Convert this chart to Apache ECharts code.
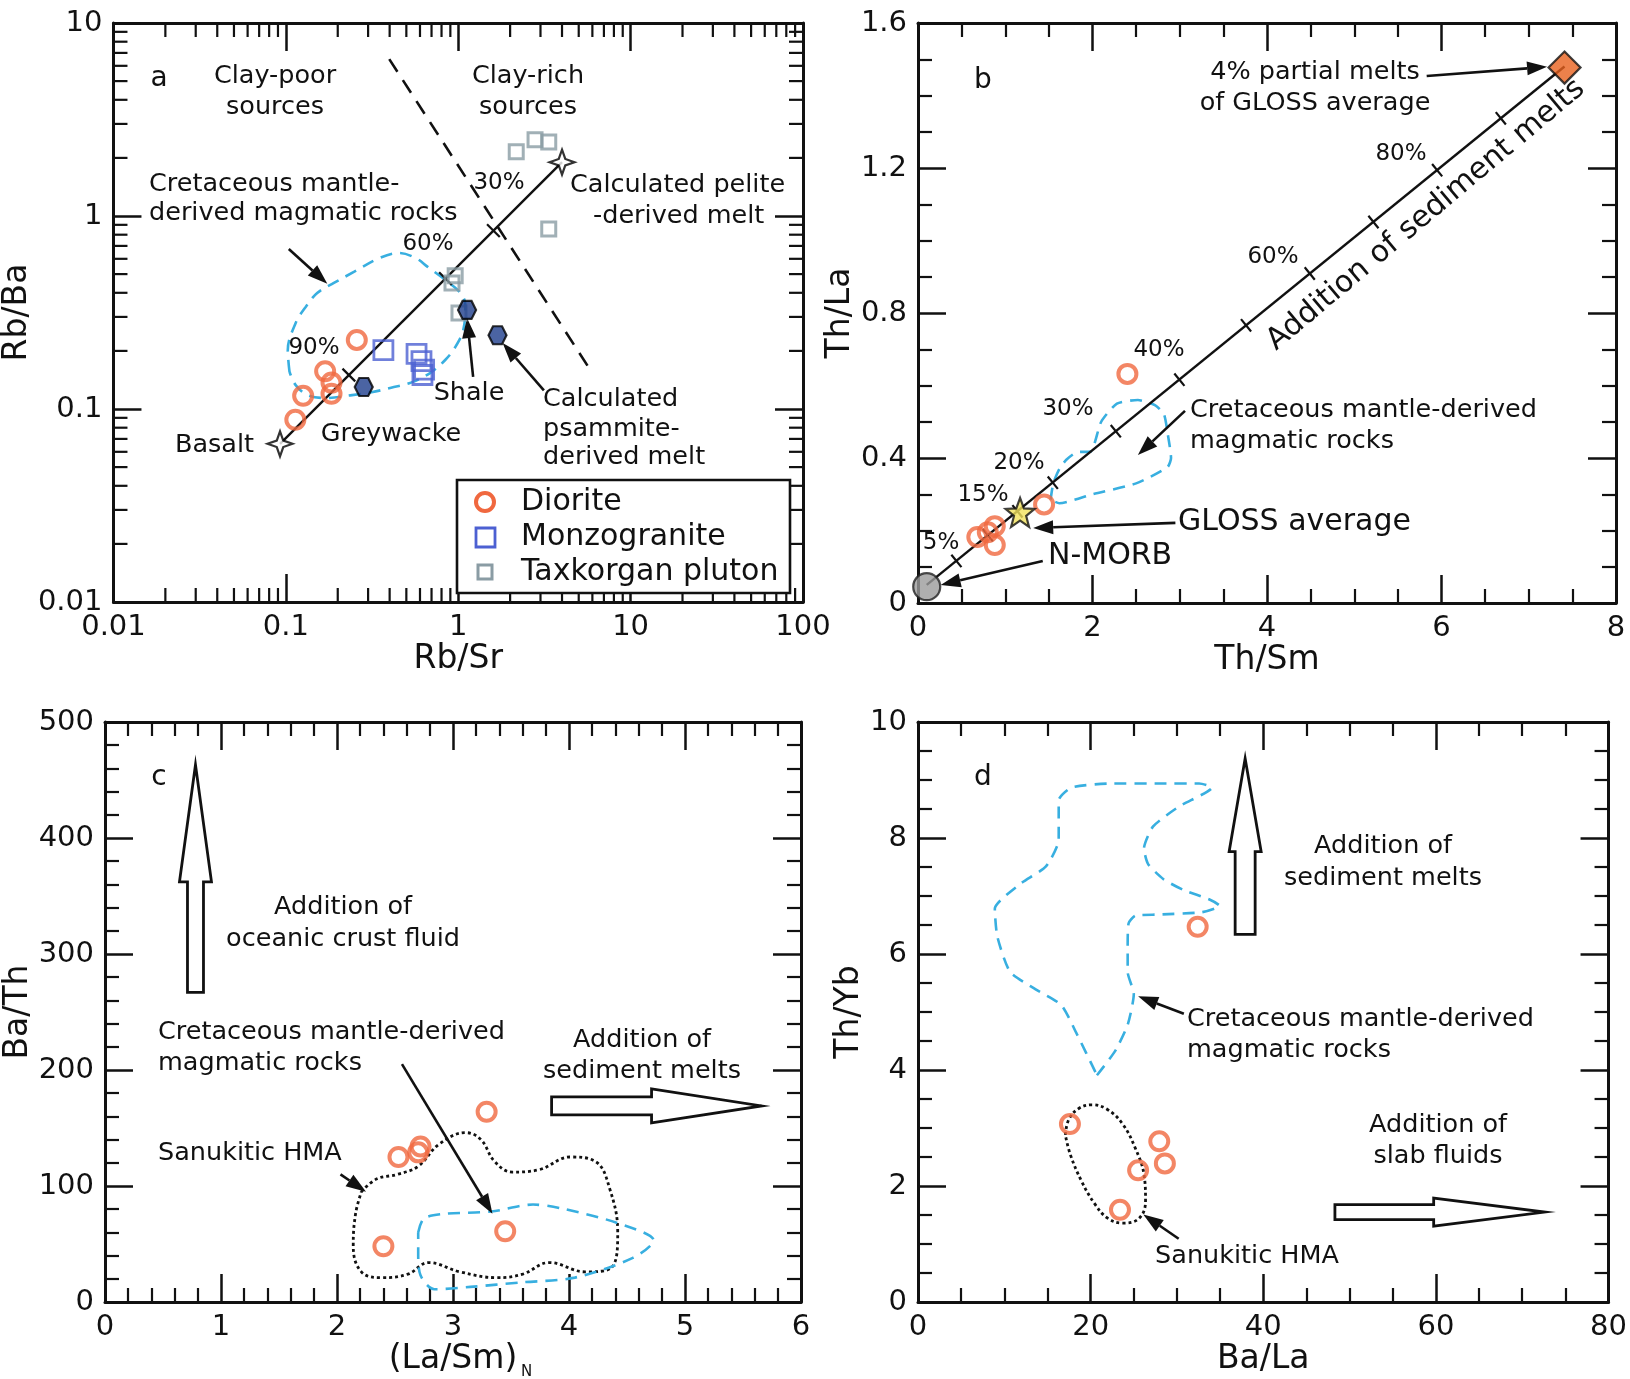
<!DOCTYPE html>
<html><head><meta charset="utf-8">
<script src="https://cdn.jsdelivr.net/npm/echarts@6/dist/echarts.min.js"></script>
<style>html,body{margin:0;padding:0;background:#fff}#c{width:1630px;height:1379px}</style>
</head><body><div id="c"></div>
<script>
// ---------------- DATA ----------------
// Panel a : Rb/Sr vs Rb/Ba (log-log)
const diorA_x = [0.258, 0.169, 0.184, 0.184, 0.126, 0.1135];
const diorA_y = [0.228, 0.157, 0.137, 0.120, 0.117, 0.088];
const monzA_x = [0.368, 0.573, 0.612, 0.634, 0.620];
const monzA_y = [0.202, 0.193, 0.177, 0.160, 0.150];
const taxA_x = [2.17, 2.79, 3.35, 3.35, 0.96, 0.92, 1.01];
const taxA_y = [2.15, 2.48, 2.42, 0.857, 0.49, 0.45, 0.314];
const srcA_x = [0.283, 1.125, 1.69];          // Greywacke, Shale, psammite melt
const srcA_y = [0.130, 0.326, 0.241];
const endA_x = [0.0925, 4.0];                 // Basalt, pelite-derived melt
const endA_y = [0.066, 1.9];
const tickA_x = [0.232, 0.843, 1.6];          // 90%, 60%, 30%
const tickA_y = [0.150, 0.474, 0.84];
const divA_x = [0.398, 5.9];                  // clay-poor / clay-rich divider
const divA_y = [6.5, 0.157];
const fieldA_x = [0.105,0.1026,0.114,0.130,0.152,0.19,0.248,0.349,0.454,0.568,0.665,0.843,1.03,1.10,1.07,0.96,0.843,0.69,0.532,0.408,0.314,0.242,0.174,0.134,0.114];
const fieldA_y = [0.156,0.202,0.279,0.337,0.399,0.45,0.513,0.605,0.643,0.605,0.545,0.466,0.399,0.346,0.257,0.209,0.180,0.154,0.137,0.129,0.122,0.118,0.114,0.118,0.133];

// Panel b : Th/Sm vs Th/La
const diorB_x = [2.40, 1.445, 0.68, 0.80, 0.88, 0.88];
const diorB_y = [0.632, 0.272, 0.182, 0.195, 0.212, 0.160];
const morbB = [0.10, 0.045];
const glossB = [1.17, 0.25];
const glossMeltB = [7.41, 1.477];
const mixB_x = [0.10, 7.41];
const mixB_y = [0.05, 1.48];
const tickB_x = [0.44, 0.80, 1.14, 1.545, 2.267, 2.996, 3.76, 4.49, 5.22, 5.95, 6.68];
const tickB_y = [0.116, 0.187, 0.253, 0.332, 0.474, 0.616, 0.766, 0.909, 1.051, 1.194, 1.337];
const fieldB_x = [1.52,1.55,1.62,1.70,1.82,1.98,2.10,2.28,2.52,2.72,2.82,2.86,2.90,2.86,2.50,2.00,1.62];
const fieldB_y = [0.285,0.33,0.37,0.395,0.416,0.418,0.50,0.55,0.56,0.545,0.52,0.47,0.40,0.375,0.33,0.30,0.275];

// Panel c : (La/Sm)N vs Ba/Th
const diorC_x = [2.40, 2.53, 2.70, 2.72, 3.29, 3.45];
const diorC_y = [48, 125, 129, 134, 164, 61];
const sanukC_x = [2.21,2.34,2.52,2.70,2.88,3.11,3.24,3.36,3.51,3.74,4.01,4.23,4.35,4.42,4.37,4.14,3.83,3.60,3.38,3.06,2.79,2.61,2.39,2.21,2.14,2.16];
const sanukC_y = [95,106,110,117,136,146,140,121,112,114,125,121,98,60,30,26,34,24,21,26,34,24,21,26,49,76];
const cretC_x = [2.70,2.75,2.93,3.33,3.69,3.92,4.42,4.73,4.55,4.05,3.60,3.15,2.84,2.72,2.70];
const cretC_y = [60,72,76,78,84,81,68,53,38,21,17,13,11,23,42];

// Panel d : Ba/La vs Th/Yb
const diorD_x = [17.6, 27.95, 28.6, 25.5, 23.4, 32.4];
const diorD_y = [3.07, 2.77, 2.39, 2.27, 1.59, 6.47];
const sanukD_x = [17.07,17.48,18.66,20.15,21.93,23.70,25.18,26.18,26.36,25.6,23.7,21.93,20.44,18.96,17.65];
const sanukD_y = [2.88,3.15,3.34,3.40,3.32,3.07,2.65,2.20,1.74,1.44,1.36,1.45,1.70,2.08,2.54];
const cretD_x = [20.73,22.81,24.29,25.0,24.29,24.29,24.40,25.18,27.84,32.87,34.95,33.77,30.80,28.44,26.66,26.18,27.24,30.21,34.05,32.57,27.84,22.51,17.78,16.30,16.30,14.82,11.85,8.9,9.19,10.67,13.63,16.60,18.37];
const cretD_y = [3.91,4.32,4.78,5.31,5.69,6.15,6.53,6.66,6.68,6.72,6.83,6.94,7.10,7.29,7.55,7.82,8.20,8.54,8.87,8.94,8.94,8.94,8.87,8.65,7.97,7.51,7.21,6.78,6.30,5.69,5.39,5.12,4.63];

// annotation arrows [x0,y0,x1,y1] in data units
const arrowsA = [[0.104,0.675,0.174,0.445],[1.22,0.1466,1.125,0.296],[3.14,0.125,1.81,0.22]];
const arrowsB = [[5.83,1.454,7.21,1.479],[3.06,0.53,2.52,0.408],[2.95,0.221,1.32,0.207],[1.43,0.116,0.26,0.05]];
const arrowsC = [[2.56,205,3.34,76],[2.03,110,2.25,95]];
const arrowsD = [[30.8,4.97,25.5,5.27],[30.2,1.09,26.1,1.51]];
const blockC = [[0.78,267,0.78,463],[3.85,169,5.66,169]];
const blockD = [[37.9,6.34,37.9,9.37],[48.3,1.55,72.6,1.55]];

// axis tick helpers
const LOG_STEPS = [2,3,4,5,6,7,8,9];
const logDecX = [0.01,0.1,1,10];
const logDecY = [0.01,0.1,1];

// ---------------- STYLE ----------------
const FONT = 'DejaVu Sans';
const TXT = '#111';
const C_DIOR = '#f0683f', C_MONZ = '#4c60d2', C_TAX = '#8a9ca4', C_BLUE = '#38afe0', C_HEX = '#1e3d8c';
const GRIDS = [
  {left:103, top:23, width:700, height:579},
  {left:918, top:23, width:698, height:580},
  {left:105, top:722, width:696, height:580},
  {left:918, top:722, width:698, height:580}
];
const AX = [
  {type:'log', min:0.01, max:100},
  {type:'value', min:0, max:8, interval:2, minorSplit:4},
  {type:'value', min:0, max:6, interval:1, minorSplit:5},
  {type:'value', min:0, max:80, interval:20, minorSplit:4}
];
const AY = [
  {type:'log', min:0.01, max:10},
  {type:'value', min:0, max:1.6, interval:0.4, minorSplit:4},
  {type:'value', min:0, max:500, interval:100, minorSplit:5},
  {type:'value', min:0, max:10, interval:2, minorSplit:4}
];
const XNAMES = ['Rb/Sr','Th/Sm','(La/Sm)','Ba/La'];
const YNAMES = ['Rb/Ba','Th/La','Ba/Th','Th/Yb'];
const XGAP = [38,38,40,40];
const YGAP = [58,59,60,35];

function mkAxis(cfg, gi, position, main, name, gap) {
  const o = {
    type: cfg.type, gridIndex: gi, position: position, min: cfg.min, max: cfg.max,
    axisLine: {show:true, onZero:false, lineStyle:{color:'#111', width:3}},
    axisTick: {show:true, inside:true, length:28, lineStyle:{color:'#111', width:2.5}},
    splitLine: {show:false},
    axisLabel: {show:main, margin:11, fontSize:29, fontFamily:FONT, color:TXT}
  };
  if (cfg.type === 'log') {
    o.logBase = 10;
    o.axisLabel.formatter = v => String(+Number(v).toPrecision(3));
  } else {
    o.interval = cfg.interval;
    o.minorTick = {show:true, splitNumber:cfg.minorSplit, length:14, lineStyle:{color:'#111', width:2.2}};
  }
  if (main) {
    o.name = name; o.nameLocation = 'middle'; o.nameGap = gap;
    o.nameTextStyle = {fontSize:33, fontFamily:FONT, color:TXT};
  }
  return o;
}
const xAxes = [], yAxes = [];
for (let p = 0; p < 4; p++) {
  xAxes.push(mkAxis(AX[p], p, 'bottom', true, XNAMES[p], XGAP[p]));
  xAxes.push(mkAxis(AX[p], p, 'top', false));
  yAxes.push(mkAxis(AY[p], p, 'left', true, YNAMES[p], YGAP[p]));
  yAxes.push(mkAxis(AY[p], p, 'right', false));
}

const pairs = (xs, ys) => xs.map((x, i) => [x, ys[i]]);
const closed = (xs, ys) => { const d = pairs(xs, ys); d.push(d[0].slice()); return d; };

function scatter(p, data, symbol, size, itemStyle, z) {
  return {type:'scatter', xAxisIndex:2*p, yAxisIndex:2*p, data, symbol, symbolSize:size,
    itemStyle, z: z || 6, silent:true};
}
function line(p, data, lineStyle, smooth, z) {
  return {type:'line', xAxisIndex:2*p, yAxisIndex:2*p, data, symbol:'none', showSymbol:false,
    smooth: smooth || false, lineStyle, z: z || 3, silent:true};
}
function arrows(p, arr) {
  return {type:'custom', xAxisIndex:2*p, yAxisIndex:2*p, data:arr, encode:{x:0, y:1}, z:5, silent:true,
    renderItem(params, api) {
      const a = api.coord([api.value(0), api.value(1)]);
      const b = api.coord([api.value(2), api.value(3)]);
      const dx = b[0]-a[0], dy = b[1]-a[1], L = Math.hypot(dx, dy), ux = dx/L, uy = dy/L;
      const hl = 20, hw = 7;
      const bx = b[0]-ux*hl, by = b[1]-uy*hl;
      return {type:'group', children:[
        {type:'line', shape:{x1:a[0], y1:a[1], x2:bx, y2:by}, style:{stroke:'#111', lineWidth:2.6}},
        {type:'polygon', shape:{points:[[b[0],b[1]],[bx-uy*hw, by+ux*hw],[bx+uy*hw, by-ux*hw]]}, style:{fill:'#111'}}
      ]};
    }};
}
function blockArrows(p, arr, dims) {
  return {type:'custom', xAxisIndex:2*p, yAxisIndex:2*p, data:arr, encode:{x:0, y:1}, z:5, silent:true,
    renderItem(params, api) {
      const d = dims[params.dataIndex];
      const a = api.coord([api.value(0), api.value(1)]);
      const b = api.coord([api.value(2), api.value(3)]);
      const dx = b[0]-a[0], dy = b[1]-a[1], L = Math.hypot(dx, dy), ux = dx/L, uy = dy/L;
      const nx = -uy, ny = ux, w = d[0], h = d[1], hl = d[2];
      const bx = b[0]-ux*hl, by = b[1]-uy*hl;
      return {type:'polygon', shape:{points:[
        [a[0]+nx*w, a[1]+ny*w],[bx+nx*w, by+ny*w],[bx+nx*h, by+ny*h],[b[0], b[1]],
        [bx-nx*h, by-ny*h],[bx-nx*w, by-ny*w],[a[0]-nx*w, a[1]-ny*w]]},
        style:{fill:'#fff', stroke:'#111', lineWidth:2.8, lineJoin:'miter'}};
    }};
}
function mixTicks(p, data, e0, e1, half) {
  return {type:'custom', xAxisIndex:2*p, yAxisIndex:2*p, data, encode:{x:0, y:1}, z:4, silent:true,
    renderItem(params, api) {
      const a = api.coord(e0), b = api.coord(e1);
      const dx = b[0]-a[0], dy = b[1]-a[1], L = Math.hypot(dx, dy), nx = -dy/L, ny = dx/L;
      const c = api.coord([api.value(0), api.value(1)]);
      return {type:'line', shape:{x1:c[0]-nx*half, y1:c[1]-ny*half, x2:c[0]+nx*half, y2:c[1]+ny*half},
        style:{stroke:'#111', lineWidth:2.2}};
    }};
}
// log-axis minor ticks (2..9 per decade) on all four sides of panel a
const logMinorData = [];
logDecX.forEach(d => LOG_STEPS.forEach(s => logMinorData.push([+(d*s).toPrecision(3), 1, 0])));
logDecY.forEach(d => LOG_STEPS.forEach(s => logMinorData.push([1, +(d*s).toPrecision(3), 1])));
const logMinor = {type:'custom', xAxisIndex:0, yAxisIndex:0, data:logMinorData, encode:{x:0, y:1}, z:4, silent:true,
  renderItem(params, api) {
    const k = api.value(2), st = {stroke:'#111', lineWidth:2.2}, m = 14;
    if (k === 0) {
      const v = api.value(0), b = api.coord([v, AY[0].min]), t = api.coord([v, AY[0].max]);
      return {type:'group', children:[
        {type:'line', shape:{x1:b[0], y1:b[1], x2:b[0], y2:b[1]-m}, style:st},
        {type:'line', shape:{x1:t[0], y1:t[1], x2:t[0], y2:t[1]+m}, style:st}]};
    }
    const v = api.value(1), l = api.coord([AX[0].min, v]), r = api.coord([AX[0].max, v]);
    return {type:'group', children:[
      {type:'line', shape:{x1:l[0], y1:l[1], x2:l[0]+m, y2:l[1]}, style:st},
      {type:'line', shape:{x1:r[0], y1:r[1], x2:r[0]-m, y2:r[1]}, style:st}]};
  }};

const HEX = 'path://M-5,-8.66L5,-8.66L10,0L5,8.66L-5,8.66L-10,0Z';
const STAR4 = 'path://M0,-10L2.6,-2.6L10,0L2.6,2.6L0,10L-2.6,2.6L-10,0L-2.6,-2.6Z';
const STAR5 = 'path://M0,-10L2.5,-3.4L9.51,-3.09L4.0,1.3L5.88,8.09L0,4.2L-5.88,8.09L-4.0,1.3L-9.51,-3.09L-2.5,-3.4Z';
const hollow = (c, w) => ({color:'rgba(255,255,255,0)', borderColor:c, borderWidth:w});

const series = [
  // ---- panel a ----
  line(0, closed(fieldA_x, fieldA_y), {color:C_BLUE, width:2.6, type:[12,8]}, 0.35, 2),
  line(0, pairs(divA_x, divA_y), {color:'#111', width:2.6, type:[15,10]}, false, 3),
  line(0, pairs(endA_x, endA_y), {color:'#111', width:2.4}, false, 3),
  mixTicks(0, pairs(tickA_x, tickA_y), [endA_x[0], endA_y[0]], [endA_x[1], endA_y[1]], 9),
  arrows(0, arrowsA),
  logMinor,
  scatter(0, pairs(taxA_x, taxA_y), 'rect', 14, hollow(C_TAX, 3), 6),
  scatter(0, pairs(monzA_x, monzA_y), 'rect', 19, hollow(C_MONZ, 2.8), 7),
  scatter(0, pairs(diorA_x, diorA_y), 'circle', 18, hollow(C_DIOR, 4), 8),
  scatter(0, pairs(srcA_x, srcA_y), HEX, 18, {color:C_HEX, borderColor:'#000', borderWidth:2.2}, 9),
  scatter(0, pairs(endA_x, endA_y), STAR4, 25, {color:'#fff', borderColor:'#000', borderWidth:2.2}, 9),
  // ---- panel b ----
  line(1, closed(fieldB_x, fieldB_y), {color:C_BLUE, width:2.6, type:[12,8]}, 0.2, 2),
  line(1, pairs(mixB_x, mixB_y), {color:'#111', width:2.4}, false, 3),
  mixTicks(1, pairs(tickB_x, tickB_y), [mixB_x[0], mixB_y[0]], [mixB_x[1], mixB_y[1]], 8),
  arrows(1, arrowsB),
  scatter(1, pairs(diorB_x, diorB_y), 'circle', 18, hollow(C_DIOR, 4), 8),
  scatter(1, [morbB], 'circle', 27, {color:'#9b9b9b', borderColor:'#222', borderWidth:2.2}, 7),
  scatter(1, [glossB], STAR5, 29, {color:'#f3e25c', borderColor:'#111', borderWidth:2.2}, 9),
  scatter(1, [glossMeltB], 'diamond', 32, {color:'#e8621e', borderColor:'#111', borderWidth:2.2}, 9),
  // ---- panel c ----
  line(2, closed(sanukC_x, sanukC_y), {color:'#111', width:2.8, type:[3,3]}, 0.4, 2),
  line(2, closed(cretC_x, cretC_y), {color:C_BLUE, width:2.6, type:[12,8]}, 0.3, 2),
  blockArrows(2, blockC, [[8,16,117],[9,17,110]]),
  arrows(2, arrowsC),
  scatter(2, pairs(diorC_x, diorC_y), 'circle', 18, hollow(C_DIOR, 4), 8),
  // ---- panel d ----
  line(3, closed(sanukD_x, sanukD_y), {color:'#111', width:2.8, type:[3,3]}, 0.4, 2),
  line(3, closed(cretD_x, cretD_y), {color:C_BLUE, width:2.6, type:[12,8]}, 0.2, 2),
  blockArrows(3, blockD, [[10,16,93],[7.5,14,111]]),
  arrows(3, arrowsD),
  scatter(3, pairs(diorD_x, diorD_y), 'circle', 18, hollow(C_DIOR, 4), 8)
];

// ---------------- TEXT ANNOTATIONS (pixel layout) ----------------
const notes = [
  ['a',159,79,28,'center'],
  ['Clay-poor',275,76,25.5,'center'],['sources',275,107,25.5,'center'],
  ['Clay-rich',528,76,25.5,'center'],['sources',528,107,25.5,'center'],
  ['Cretaceous mantle-',149,184,25.5,'left'],['derived magmatic rocks',149,213,25.5,'left'],
  ['30%',499,183,23,'center'],
  ['Calculated pelite',570,185,25.5,'left'],['-derived melt',593,216,25.5,'left'],
  ['60%',428,244,23,'center'],['90%',314,348,23,'center'],
  ['Shale',469,393,25.5,'center'],['Greywacke',391,434,25.5,'center'],
  ['Basalt',254,445,25.5,'right'],
  ['Calculated',543,399,25.5,'left'],['psammite-',543,429,25.5,'left'],['derived melt',543,457,25.5,'left'],
  ['Diorite',521,502,30,'left'],['Monzogranite',521,537,30,'left'],['Taxkorgan pluton',521,572,30,'left'],
  ['b',983,81,28,'center'],
  ['4% partial melts',1315,72,25.5,'center'],['of GLOSS average',1315,103,25.5,'center'],
  ['80%',1401,154,23,'center'],['60%',1273,257,23,'center'],['40%',1159,350,23,'center'],
  ['30%',1068,409,23,'center'],['20%',1019,463,23,'center'],['15%',983,495,23,'center'],['5%',941,543,23,'center'],
  ['Addition of sediment melts',1426,215,30,'center',40],
  ['Cretaceous mantle-derived',1190,410,25.5,'left'],['magmatic rocks',1190,441,25.5,'left'],
  ['GLOSS average',1178,522,30,'left'],['N-MORB',1048,556,30,'left'],
  ['c',159,778,28,'center'],
  ['Addition of',343,907,25.5,'center'],['oceanic crust fluid',343,939,25.5,'center'],
  ['Cretaceous mantle-derived',158,1032,25.5,'left'],['magmatic rocks',158,1063,25.5,'left'],
  ['Addition of',642,1040,25.5,'center'],['sediment melts',642,1071,25.5,'center'],
  ['Sanukitic HMA',158,1153,25.5,'left'],
  ['N',521,1372,15,'left'],
  ['d',983,778,28,'center'],
  ['Addition of',1383,846,25.5,'center'],['sediment melts',1383,878,25.5,'center'],
  ['Cretaceous mantle-derived',1187,1019,25.5,'left'],['magmatic rocks',1187,1050,25.5,'left'],
  ['Addition of',1438,1125,25.5,'center'],['slab fluids',1438,1156,25.5,'center'],
  ['Sanukitic HMA',1247,1256,25.5,'center']
];
const graphics = [
  {type:'rect', z:20, shape:{x:457, y:480, width:333, height:113}, style:{fill:'#fff', stroke:'#111', lineWidth:2.6}},
  {type:'circle', z:21, shape:{cx:485, cy:502, r:9}, style:{fill:'rgba(255,255,255,0)', stroke:C_DIOR, lineWidth:4}},
  {type:'rect', z:21, shape:{x:476, y:528, width:19, height:19}, style:{fill:'rgba(255,255,255,0)', stroke:C_MONZ, lineWidth:2.8}},
  {type:'rect', z:21, shape:{x:478, y:565, width:14, height:14}, style:{fill:'rgba(255,255,255,0)', stroke:C_TAX, lineWidth:3}}
];
notes.forEach(n => {
  graphics.push({type:'text', z:22, x:n[1], y:n[2], rotation: n[5] ? n[5]*Math.PI/180 : 0,
    style:{text:n[0], fontSize:n[3], fontFamily:FONT, fill:TXT, align:n[4], textAlign:n[4],
      verticalAlign:'middle', textVerticalAlign:'middle'}});
});

const chart = echarts.init(document.getElementById('c'), null, {renderer:'canvas'});
chart.setOption({
  animation:false,
  backgroundColor:'#fff',
  grid: GRIDS.map(g => Object.assign({containLabel:false}, g)),
  xAxis: xAxes,
  yAxis: yAxes,
  series,
  graphic: {elements: graphics}
});
</script>
</body></html>
